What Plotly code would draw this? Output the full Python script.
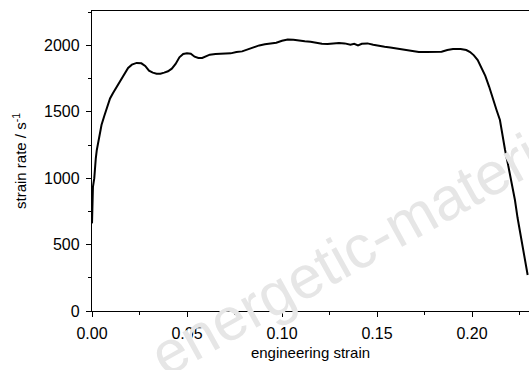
import plotly.graph_objects as go

strain = [0.0, 0.0003, 0.0005, 0.0012, 0.0015, 0.002, 0.0025, 0.0035, 0.005, 0.0065,
          0.008, 0.0095, 0.011, 0.013, 0.015, 0.017, 0.019, 0.021, 0.0235, 0.026,
          0.028, 0.030, 0.032, 0.034, 0.036, 0.038, 0.040, 0.042, 0.044, 0.046,
          0.048, 0.050, 0.052, 0.054, 0.056, 0.058, 0.060, 0.062, 0.065, 0.070,
          0.073, 0.076, 0.079, 0.082, 0.085, 0.088, 0.091, 0.094, 0.097, 0.100,
          0.103, 0.106, 0.109, 0.112, 0.115, 0.118, 0.121, 0.124, 0.127, 0.130,
          0.133, 0.136, 0.138, 0.140, 0.142, 0.145, 0.148, 0.151, 0.154, 0.157,
          0.160, 0.163, 0.166, 0.169, 0.172, 0.176, 0.180, 0.184, 0.187, 0.190,
          0.194, 0.197, 0.199, 0.201, 0.203, 0.205, 0.207, 0.209, 0.211, 0.213,
          0.2147, 0.216, 0.2174, 0.219, 0.2205, 0.2226, 0.224, 0.2253, 0.2266, 0.2279,
          0.2293]
strain_rate = [660, 760, 935, 1000, 1085, 1150, 1210, 1300, 1400, 1470,
               1540, 1600, 1640, 1690, 1740, 1790, 1830, 1855, 1868, 1865,
               1845, 1810, 1795, 1787, 1787, 1795, 1805, 1825, 1860, 1910,
               1935, 1940, 1938, 1915, 1905, 1905, 1915, 1930, 1935, 1938,
               1940, 1950, 1955, 1970, 1985, 2000, 2008, 2015, 2020, 2035,
               2045, 2042, 2035, 2032, 2028, 2020, 2012, 2010, 2015, 2018,
               2015, 2005, 2012, 2000, 2012, 2015, 2005, 1995, 1990, 1985,
               1978, 1970, 1962, 1955, 1950, 1950, 1950, 1952, 1965, 1972,
               1972, 1965, 1950, 1925, 1890, 1830, 1770, 1690, 1590, 1510,
               1438, 1320, 1212, 1100, 990, 836, 700, 587, 480, 384,
               271]

x_title = "engineering strain"
y_title = "strain rate / s<sup>-1</sup>"
watermark = "energetic-materials"

fig = go.Figure()
fig.add_trace(go.Scatter(x=strain, y=strain_rate, mode="lines",
                         line=dict(color="black", width=2), showlegend=False))

font = dict(family="Liberation Sans, Arial, sans-serif", color="black")

fig.update_layout(
    width=529, height=370,
    margin=dict(l=92, r=0, t=11, b=59),
    paper_bgcolor="white", plot_bgcolor="white",
    font=font,
    xaxis=dict(range=[0, 0.23], dtick=0.05, tick0=0, tickformat=".2f",
               ticks="outside", ticklen=5, tickwidth=1, tickcolor="black",
               showline=True, linecolor="black", linewidth=1.3, mirror=True,
               showgrid=False, zeroline=False,
               tickfont=dict(size=16), ticklabelstandoff=3,
               minor=dict(dtick=0.025, tick0=0, ticks="outside", ticklen=3, tickcolor="black", showgrid=False),
               title=dict(text=x_title, font=dict(size=15), standoff=6)),
    yaxis=dict(range=[0, 2259], dtick=500, tick0=0,
               ticks="outside", ticklen=5, tickwidth=1, tickcolor="black",
               showline=True, linecolor="black", linewidth=1.3, mirror=False,
               showgrid=False, zeroline=False,
               tickfont=dict(size=16), ticklabelstandoff=3,
               minor=dict(dtick=250, tick0=0, ticks="outside", ticklen=3, tickcolor="black", showgrid=False),
               title=dict(text=y_title, font=dict(size=15), standoff=13)),
    annotations=[dict(text=watermark, xref="paper", yref="paper", x=0.655, y=0.25,
                      xanchor="center", yanchor="middle",
                      showarrow=False, textangle=-29,
                      font=dict(family="Liberation Sans, Arial, sans-serif", size=60, color="#e6e6e6"))],
)

fig.write_html("out.html")
